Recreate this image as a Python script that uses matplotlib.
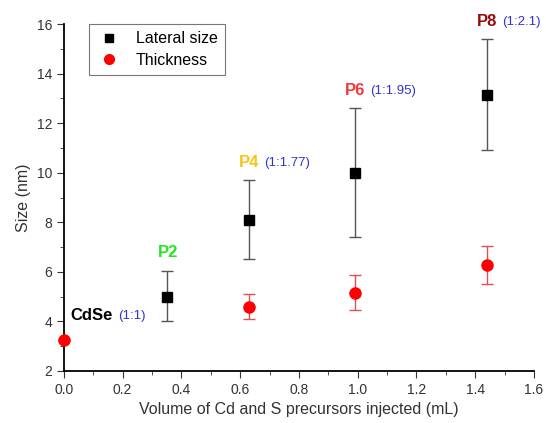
import matplotlib
matplotlib.use("Agg")
import matplotlib.pyplot as plt
from matplotlib.ticker import MultipleLocator
from matplotlib.lines import Line2D

plt.rcParams['font.family'] = ['Liberation Sans', 'DejaVu Sans']

# datos
vol_lat = [0.35, 0.63, 0.99, 1.44]
lat = [5.0, 8.1, 10.0, 13.15]
lat_lo = [4.0, 6.5, 7.4, 10.9]
lat_hi = [6.05, 9.7, 12.6, 15.38]

vol_thk = [0.0, 0.63, 0.99, 1.44]
thk = [3.24, 4.57, 5.15, 6.26]
thk_lo = [3.24, 4.08, 4.45, 5.51]
thk_hi = [3.24, 5.09, 5.86, 7.03]

muestras = ["P2", "P4", "P6", "P8"]
colores = ["#22e622", "#f5c518", "#f03a3a", "#9b0a0a"]
ratios = ["", "(1:1.77)", "(1:1.95)", "(1:2.1)"]

fig = plt.figure(figsize=(5.46, 4.23), dpi=100)
ax = fig.add_axes([0.117, 0.123, 0.861, 0.820])

err_lat = [[v - l for v, l in zip(lat, lat_lo)], [h - v for v, h in zip(lat, lat_hi)]]
err_thk = [[v - l for v, l in zip(thk, thk_lo)], [h - v for v, h in zip(thk, thk_hi)]]

ax.errorbar(vol_lat, lat, yerr=err_lat, fmt='s', color='black', ms=7,
            ecolor='#555555', elinewidth=1, capsize=4, capthick=1, zorder=3)
ax.errorbar(vol_thk, thk, yerr=err_thk, fmt='o', color='red', ms=8,
            ecolor='#e05050', elinewidth=1, capsize=4, capthick=1, zorder=3,
            clip_on=False)

# etiquetas de las muestras
for i, (x, top) in enumerate(zip(vol_lat, lat_hi)):
    if i == 0:
        ax.annotate(muestras[i], xy=(x, top), xytext=(1, 18), textcoords='offset pixels',
                    ha='center', va='center', color=colores[i], fontsize=12, fontweight='bold')
    else:
        ax.annotate(muestras[i], xy=(x, top), xytext=(10, 18), textcoords='offset pixels',
                    ha='right', va='center', color=colores[i], fontsize=12, fontweight='bold')
        ax.annotate(ratios[i], xy=(x, top), xytext=(15, 17), textcoords='offset pixels',
                    ha='left', va='center', color='#3333cc', fontsize=9.5)

ax.annotate("CdSe", xy=(vol_thk[0], thk[0]), xytext=(6, 25), textcoords='offset pixels',
            ha='left', va='center', color='black', fontsize=12, fontweight='bold')
ax.annotate("(1:1)", xy=(vol_thk[0], thk[0]), xytext=(54, 24), textcoords='offset pixels',
            ha='left', va='center', color='#3333cc', fontsize=9.5)

ax.set_xlim(0, 1.6)
ax.set_ylim(2, 16)
ax.xaxis.set_major_locator(MultipleLocator(0.2))
ax.xaxis.set_minor_locator(MultipleLocator(0.1))
ax.yaxis.set_major_locator(MultipleLocator(2))
ax.yaxis.set_minor_locator(MultipleLocator(1))
ax.set_xticklabels([f"{v:.1f}" for v in ax.get_xticks()])
ax.tick_params(which='both', direction='out', labelsize=10, color='#333333', labelcolor='#333333')
ax.tick_params(which='major', length=5)
ax.tick_params(which='minor', length=3)

for s in ['top', 'right']:
    ax.spines[s].set_visible(False)
for s in ['left', 'bottom']:
    ax.spines[s].set_linewidth(1.3)

ax.set_xlabel("Volume of Cd and S precursors injected (mL)", fontsize=11.5, color='#333333')
ax.set_ylabel("Size (nm)", fontsize=11.5, color='#333333')

handles = [Line2D([], [], ls='none', marker='s', color='black', ms=6),
           Line2D([], [], ls='none', marker='o', color='red', ms=7)]
leg = ax.legend(handles, ['Lateral size', 'Thickness'], loc='upper left',
                bbox_to_anchor=(0.053, 1.0), borderaxespad=0, fontsize=11.5, frameon=True,
                fancybox=False, edgecolor='#555555', handletextpad=0.9, borderpad=0.45,
                labelspacing=0.4, handlelength=1.6)
leg.get_frame().set_linewidth(0.8)

fig.savefig("out.png", dpi=100)
